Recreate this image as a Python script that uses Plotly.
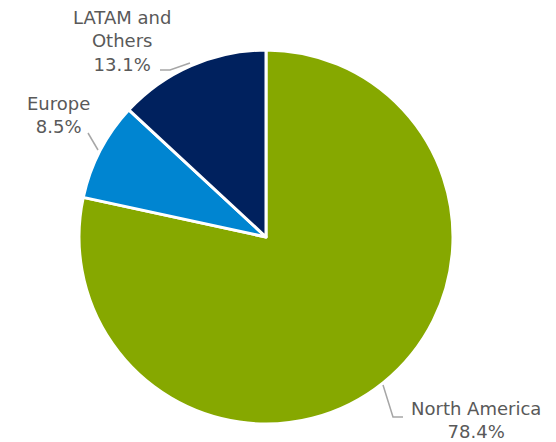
import plotly.graph_objects as go

W, H = 556, 442
OFF = 8  # page body margin offset

labels = ["North America", "Europe", "LATAM and Others"]
values = [78.4, 8.5, 13.1]
colors = ["#86A800", "#0085D1", "#00215E"]
label_text = ["North America<br>78.4%", "Europe<br>8.5%", "LATAM and<br>Others<br>13.1%"]

def px(x):
    return (x - OFF) / W

def py(y):
    return 1 - (y - OFF) / H

fig = go.Figure(go.Pie(
    labels=labels,
    values=values,
    sort=False,
    direction="clockwise",
    rotation=0,
    marker=dict(colors=colors, line=dict(color="white", width=3)),
    textinfo="none",
    hoverinfo="label+percent",
    domain=dict(x=[px(79), px(453)], y=[py(424), py(50)]),
    showlegend=False,
))

font = dict(family="DejaVu Sans, Verdana, sans-serif", size=18, color="#595959")
ann_pos = [(476, 420), (58, 115), (122, 41)]
for txt, (x, y) in zip(label_text, ann_pos):
    fig.add_annotation(x=px(x), y=py(y), xref="paper", yref="paper", text=txt,
                       showarrow=False, font=font, align="center",
                       xanchor="center", yanchor="middle")

leaders = [
    [(383, 385), (393, 417), (403, 417)],
    [(88, 133), (98, 150)],
    [(160, 70), (170, 70), (190, 63)],
]
for pts in leaders:
    path = "M " + " L ".join(f"{px(x)},{py(y)}" for x, y in pts)
    fig.add_shape(type="path", path=path, xref="paper", yref="paper",
                  line=dict(color="#A6A6A6", width=1.5))

fig.update_layout(width=W, height=H, margin=dict(l=0, r=0, t=0, b=0),
                  paper_bgcolor="white", plot_bgcolor="white")
fig.write_html("out.html")
